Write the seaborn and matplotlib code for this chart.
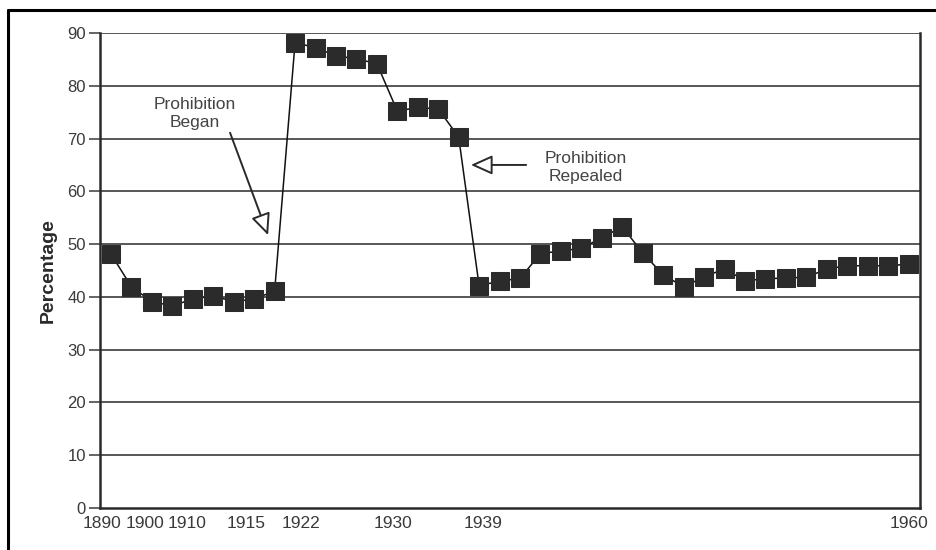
import matplotlib
matplotlib.use("Agg")
import matplotlib.pyplot as plt
import seaborn as sns
import pandas as pd
import numpy as np
from matplotlib.lines import Line2D

# ---- data -------------------------------------------------------------
obs_index = list(range(40))
percentage = [48.1, 41.9, 39.1, 38.3, 39.6, 40.2, 39.1, 39.6, 41.1,
              88.2, 87.2, 85.7, 85.1, 84.2, 75.2, 75.9, 75.6, 70.3,
              42.1, 43.0, 43.5, 48.2, 48.7, 49.2, 51.2, 53.3, 48.3,
              44.2, 41.9, 43.8, 45.3, 43.1, 43.4, 43.6, 43.7, 45.3,
              45.9, 45.9, 45.9, 46.2]
tick_labels = ["1890", "1900", "1910", "1915", "1922", "1930", "1939", "1960"]
tick_pos = [-0.45, 1.66, 3.70, 6.59, 9.29, 13.80, 18.21, 39.02]
y_ticks = [0, 10, 20, 30, 40, 50, 60, 70, 80, 90]

df = pd.DataFrame({"obs": obs_index, "pct": percentage})

sns.set_theme(style="white")
plt.rcParams["font.family"] = ["Liberation Sans", "DejaVu Sans"]

fig = plt.figure(figsize=(9.37, 5.5), dpi=100)
ax = fig.add_axes([100 / 937, 1 - 508 / 550, (920 - 100) / 937, (508 - 33) / 550])

for yv in y_ticks[1:]:
    ax.axhline(yv, color="#4a4a4a", lw=1.3, zorder=1)

sns.lineplot(data=df, x="obs", y="pct", ax=ax, color="#111111", lw=1.1,
             marker="s", markersize=12.8, markerfacecolor="#2b2b2b",
             markeredgecolor="#2b2b2b", zorder=3)

ax.set_xlim(-0.54, 39.56)
ax.set_ylim(0, 90)
ax.set_yticks(y_ticks)
ax.set_yticklabels([str(v) for v in y_ticks], fontsize=12, color="#3a3a3a")
ax.set_xticks(tick_pos)
ax.set_xticklabels(tick_labels, fontsize=12.5, color="#3a3a3a",
                   family=["Liberation Sans Narrow", "Liberation Sans"])
ax.tick_params(axis="x", length=0, pad=6)
ax.tick_params(axis="y", length=8, width=1.2, color="#4a4a4a", pad=2, left=True)
ax.set_xlabel("")
ax.set_ylabel("Percentage", fontsize=14, fontweight="bold", color="#2a2a2a", labelpad=8)

for side in ["left", "right", "bottom"]:
    ax.spines[side].set_visible(True)
    ax.spines[side].set_color("#2a2a2a")
    ax.spines[side].set_linewidth(1.8)
ax.spines["top"].set_visible(False)

arrow = dict(arrowstyle="-|>,head_length=0.6,head_width=0.27", mutation_scale=22,
             fc="white", ec="#2a2a2a", lw=1.4, shrinkA=0, shrinkB=0)
ax.annotate("", xy=(7.68, 51.7), xytext=(5.82, 71.1), arrowprops=arrow, zorder=4)
ax.text(4.1, 74.8, "Prohibition\nBegan", ha="center", va="center",
        fontsize=12.5, color="#444444", linespacing=1.25)
ax.annotate("", xy=(17.6, 65.0), xytext=(20.3, 65.0), arrowprops=arrow, zorder=4)
ax.text(23.2, 64.6, "Prohibition\nRepealed", ha="center", va="center",
        fontsize=12.5, color="#444444", linespacing=1.25)

# outer frame (top and left only)
fig.add_artist(Line2D([8.5 / 937, 1.0], [1 - 10 / 550, 1 - 10 / 550],
                      color="black", lw=2.2, transform=fig.transFigure))
fig.add_artist(Line2D([8.5 / 937, 8.5 / 937], [0.0, 1 - 10 / 550],
                      color="black", lw=2.2, transform=fig.transFigure))

fig.savefig("out.png", dpi=100, facecolor="white")
